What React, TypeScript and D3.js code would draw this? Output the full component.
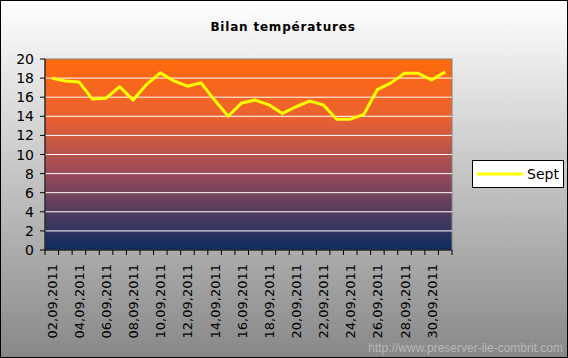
import React from 'react';
import * as d3 from 'd3';

const days = [
  '02,09,2011', '03,09,2011', '04,09,2011', '05,09,2011', '06,09,2011',
  '07,09,2011', '08,09,2011', '09,09,2011', '10,09,2011', '11,09,2011',
  '12,09,2011', '13,09,2011', '14,09,2011', '15,09,2011', '16,09,2011',
  '17,09,2011', '18,09,2011', '19,09,2011', '20,09,2011', '21,09,2011',
  '22,09,2011', '23,09,2011', '24,09,2011', '25,09,2011', '26,09,2011',
  '27,09,2011', '28,09,2011', '29,09,2011', '30,09,2011', '01,10,2011',
];
const sept = [
  18.0, 17.7, 17.6, 15.8, 15.9, 17.1, 15.7, 17.35, 18.55, 17.7,
  17.15, 17.5, 15.7, 14.0, 15.4, 15.7, 15.2, 14.3, 15.0, 15.6,
  15.2, 13.7, 13.7, 14.2, 16.8, 17.5, 18.5, 18.5, 17.8, 18.65,
];
const yTicks = [0, 2, 4, 6, 8, 10, 12, 14, 16, 18, 20];

const W = 568;
const H = 358;
const plot = { left: 45, right: 452, top: 59, bottom: 250 };
const font = '"Comic Sans MS", "DejaVu Sans", sans-serif';

export default function App() {
  const x = d3.scaleBand<string>().domain(days).range([plot.left, plot.right]);
  const y = d3.scaleLinear().domain([0, 20]).range([plot.bottom, plot.top]);
  const line = d3
    .line<number>()
    .x((_, i) => (x(days[i]) ?? 0) + x.bandwidth() / 2)
    .y((d) => y(d));

  return (
    <svg width={W} height={H} style={{ position: 'fixed', left: 0, top: 0 }}>
      <defs>
        <linearGradient id="bg" x1="0" y1="0" x2="0" y2="1">
          <stop offset="0" stopColor="#ffffff" />
          <stop offset="1" stopColor="#888888" />
        </linearGradient>
        <linearGradient id="pl" x1="0" y1="0" x2="0" y2="1">
          <stop offset="0" stopColor="#ff6a0c" />
          <stop offset="0.3" stopColor="#ec6230" />
          <stop offset="0.6" stopColor="#9a4a5a" />
          <stop offset="1" stopColor="#0c2c62" />
        </linearGradient>
      </defs>
      <rect x={0.5} y={0.5} width={W - 1} height={H - 1} fill="url(#bg)" stroke="#000" />

      <text x={283} y={31} textAnchor="middle" fontFamily={font} fontSize={12} fontWeight="bold" letterSpacing={0.8}>
        Bilan températures
      </text>

      <rect
        x={plot.left}
        y={plot.top}
        width={plot.right - plot.left}
        height={plot.bottom - plot.top}
        fill="url(#pl)"
        stroke="#808080"
      />
      {yTicks.filter((t) => t > 0 && t < 20).map((t) => (
        <line key={t} x1={plot.left} x2={plot.right} y1={y(t)} y2={y(t)} stroke="#fff" />
      ))}

      {/* y axis */}
      <line x1={plot.left} x2={plot.left} y1={plot.top} y2={plot.bottom} stroke="#000" />
      {yTicks.map((t) => (
        <g key={t}>
          <line x1={plot.left - 5} x2={plot.left} y1={y(t)} y2={y(t)} stroke="#000" />
          <text x={34} y={y(t) + 5} textAnchor="end" fontFamily={font} fontSize={14}>
            {t}
          </text>
        </g>
      ))}

      {/* x axis */}
      <line x1={plot.left} x2={plot.right} y1={plot.bottom} y2={plot.bottom} stroke="#000" />
      {days.map((d) => (
        <line key={d} x1={x(d)} x2={x(d)} y1={plot.bottom} y2={plot.bottom + 5} stroke="#000" />
      ))}
      <line x1={plot.right} x2={plot.right} y1={plot.bottom} y2={plot.bottom + 5} stroke="#000" />
      {days.map((d, i) =>
        i % 2 === 0 ? (
          <text
            key={d}
            transform={`translate(${(x(d) ?? 0) + x.bandwidth() / 2 + 5},264) rotate(-90)`}
            textAnchor="end"
            fontFamily={font}
            fontSize={13}
          >
            {d}
          </text>
        ) : null
      )}

      <path d={line(sept) ?? ''} fill="none" stroke="#ffff00" strokeWidth={3} strokeLinejoin="round" />

      {/* legend */}
      <rect x={472.5} y={160.5} width={91} height={27} fill="#fff" stroke="#000" />
      <line x1={477} x2={523} y1={174} y2={174} stroke="#ffff00" strokeWidth={3} />
      <text x={527} y={179} fontFamily={font} fontSize={14}>
        Sept
      </text>

      <text x={563} y={352} textAnchor="end" fontFamily="Liberation Sans, Arial, sans-serif" fontSize={12} fill="#b8b8b8">
        http://www.preserver-ile-combrit.com
      </text>
    </svg>
  );
}
